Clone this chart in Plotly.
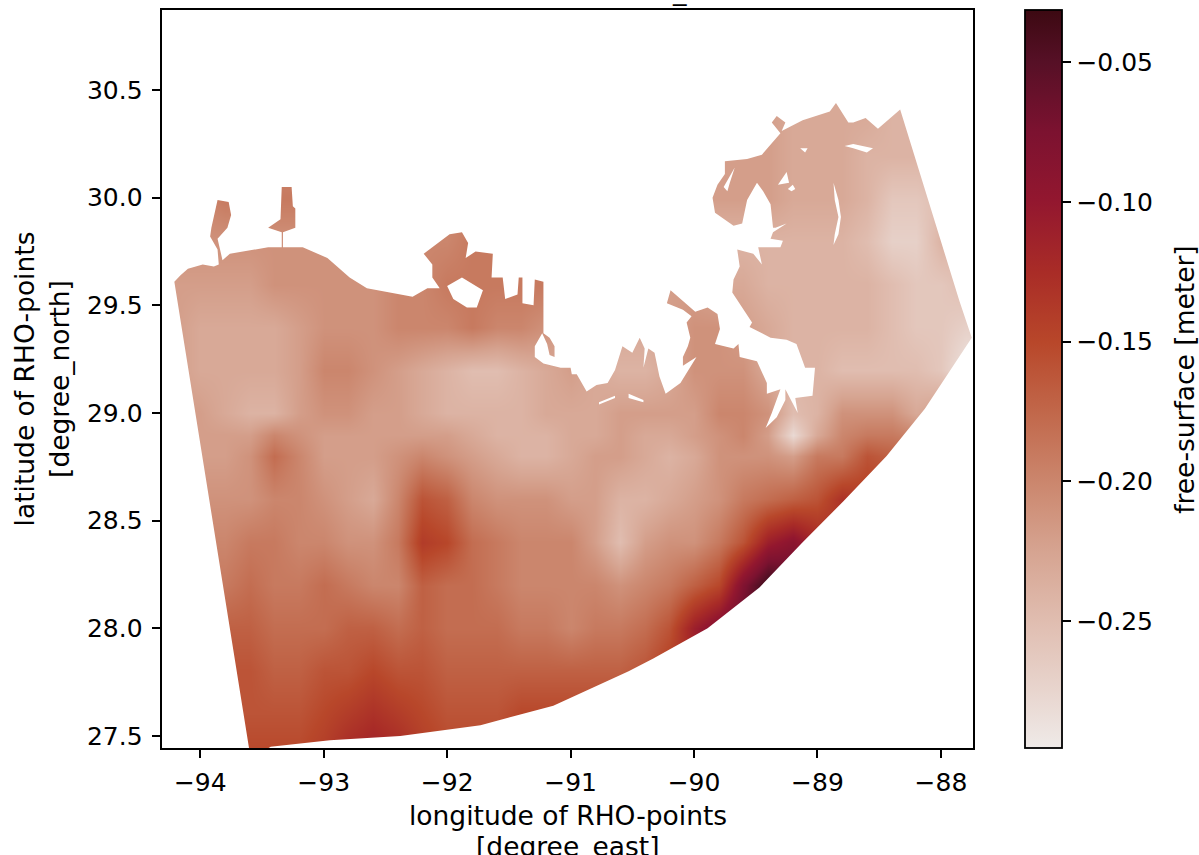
import plotly.graph_objects as go

lons = [-94.4, -94.2, -94.0, -93.8, -93.6, -93.4, -93.2, -93.0, -92.8, -92.6, -92.4, -92.2,
        -92.0, -91.8, -91.6, -91.4, -91.2, -91.0, -90.8, -90.6, -90.4, -90.2, -90.0, -89.8,
        -89.6, -89.4, -89.2, -89.0, -88.8, -88.6, -88.4, -88.2, -88.0, -87.8, -87.6]
lats = [30.6, 30.4, 30.2, 30.0, 29.8, 29.6, 29.4, 29.2, 29.0, 28.9, 28.8, 28.6, 28.4, 28.2, 28.0, 27.8, 27.6, 27.4]

# free-surface depth below zero, in centimetres (north to south)
depth_cm = [
 [20,20,20,20,20,20,20,20,20,20,20,20,20,20,20,20,20,20,20,20,20,20,22,22,22,22,23,23,23,23,24,24,24,24,24],
 [20,20,20,20,20,20,20,20,20,20,20,20,20,20,20,20,20,20,20,20,20,20,22,22,22,22,23,23,23,23,24,24,24,24,24],
 [20,20,20,20,20,20,20,20,20,20,20,20,20,20,20,20,20,20,20,20,20,22,22,22,22,22,23,23,23,24,24,24,24,24,24],
 [20,20,20,19,19,19,19,19,20,20,20,20,20,20,20,20,20,20,20,21,21,22,22,22,22,22,23,23,23,24,26,26,25,25,25],
 [21,21,21,21,21,21,21,21,21,21,20,20,20,19,19,19,19,20,20,21,22,22,23,24,24,24,24,24,24,25,27,27,24,24,24],
 [22,22,22,22,22,21,21,21,21,21,20,20,19,19,19,19,19,20,21,22,22,22,22,23,23,24,24,24,24,24,25,26,26,25,25],
 [22,22,23,23,23,23,22,21,21,21,20,20,20,19,20,20,21,23,23,23,23,22,21,21,22,23,24,24,24,24,25,26,26,27,27],
 [22,22,23,23,23,23,22,20,20,21,22,23,24,25,25,24,23,22,23,24,24,23,21,21,21,23,24,24,25,25,25,25,26,29,29],
 [22,22,22,23,24,24,22,21,21,22,22,23,24,24,24,24,23,23,23,22,22,22,22,20,20,21,25,24,21,21,21,23,22,22,22],
 [22,22,22,22,22,20,21,22,22,22,22,22,22,23,24,24,24,23,23,22,23,23,22,21,20,22,28,23,20,19,19,20,20,20,20],
 [22,22,22,22,21,18,20,22,22,22,21,20,21,22,23,24,24,23,22,22,23,24,23,21,21,21,22,19,19,16,17,17,17,17,17],
 [21,21,21,21,21,20,20,21,22,23,20,16,17,20,21,21,21,22,22,24,24,23,22,21,19,18,17,16,13,14,14,14,14,14,14],
 [20,20,20,20,19,19,20,20,21,21,19,14,15,18,19,20,20,20,22,25,22,21,21,19,16,11,9,12,14,14,14,14,14,14,14],
 [19,19,19,19,18,19,19,18,19,20,20,17,18,18,19,20,20,20,20,21,20,19,17,15,8,3,5,7,10,10,10,10,10,10,10],
 [17,17,17,17,17,18,18,18,17,17,18,17,18,18,18,19,19,20,19,19,18,16,11,8,5,4,5,7,10,10,10,10,10,10,10],
 [16,16,16,16,16,17,17,16,16,15,16,16,17,17,17,17,17,17,17,17,16,14,12,8,7,7,7,7,10,10,10,10,10,10,10],
 [16,16,16,16,16,16,16,15,14,13,14,15,16,16,16,15,15,15,15,15,14,13,12,8,7,7,7,7,10,10,10,10,10,10,10],
 [15,15,15,15,15,15,15,14,12,11,12,14,15,15,15,15,15,15,15,15,14,13,12,8,7,7,7,7,10,10,10,10,10,10,10],
]

# outer edge of the model domain (clockwise from the south-west corner)
edge_lon = [-93.59,-94.21,-94.16,-94.10,-93.98,-93.89,-93.85,-93.86,-93.92,-93.91,-93.86,-93.77,-93.75,-93.78,-93.86,-93.82,
 -93.76,-93.45,-93.34,-93.34,-93.45,-93.35,-93.34,-93.26,-93.25,-93.23,-93.23,-93.33,-93.33,-93.17,-92.97,-92.79,-92.65,-92.38,
 -92.28,-92.16,-92.06,-92.12,-92.12,-92.19,-92.14,-91.98,-91.88,-91.83,-91.85,-91.77,-91.63,-91.64,-91.55,-91.53,-91.43,-91.42,
 -91.39,-91.39,-91.30,-91.29,-91.22,-91.22,-91.17,-91.13,-91.13,-91.17,-91.19,-91.23,-91.29,-91.29,-91.22,-91.08,-91.00,-90.99,
 -90.95,-90.87,-90.79,-90.70,-90.64,-90.58,-90.50,-90.44,-90.40,-90.41,-90.37,-90.32,-90.28,-90.23,-90.11,-89.98,-90.09,-90.09,
 -90.05,-90.03,-90.06,-90.02,-90.09,-90.22,-90.19,-90.09,-89.99,-89.89,-89.81,-89.79,-89.83,-89.68,-89.64,-89.63,-89.49,-89.41,
 -89.41,-89.30,-89.37,-89.42,-89.33,-89.26,-89.26,-89.16,-89.18,-89.04,-89.02,-89.10,-89.17,-89.25,-89.38,-89.55,-89.53,-89.61,
 -89.69,-89.68,-89.63,-89.65,-89.52,-89.45,-89.48,-89.30,-89.28,-89.38,-89.36,-89.25,-89.34,-89.36,-89.38,-89.44,-89.49,-89.57,-89.61,-89.68,-89.83,-89.85,
 -89.81,-89.75,-89.75,-89.57,-89.45,-89.30,-89.37,-89.33,-89.26,-89.29,-89.12,-88.90,-88.85,-88.75,-88.71,-88.61,-88.51,-88.33,
 -88.23,-87.85,-87.75,-88.13,-88.44,-88.79,-89.12,-89.47,-89.89,-90.33,-90.53,-91.14,-91.73,-92.38,-92.95,-93.43,-93.59]
edge_lat = [27.39,29.61,29.64,29.67,29.69,29.68,29.69,29.76,29.82,29.86,29.99,29.98,29.92,29.86,29.81,29.71,
 29.74,29.77,29.77,29.84,29.86,29.90,30.05,30.05,29.96,29.95,29.86,29.84,29.77,29.77,29.72,29.63,29.58,29.55,
 29.54,29.58,29.58,29.63,29.69,29.74,29.76,29.83,29.84,29.79,29.72,29.75,29.74,29.63,29.63,29.53,29.55,29.63,
 29.63,29.51,29.50,29.62,29.61,29.37,29.35,29.31,29.26,29.27,29.32,29.37,29.31,29.26,29.23,29.21,29.21,29.18,
 29.18,29.10,29.13,29.14,29.20,29.31,29.28,29.35,29.30,29.21,29.30,29.28,29.17,29.09,29.14,29.26,29.22,29.26,
 29.31,29.35,29.42,29.45,29.48,29.51,29.57,29.52,29.47,29.49,29.46,29.39,29.32,29.30,29.32,29.26,29.24,29.14,
 29.09,29.11,29.00,28.93,28.98,29.06,29.11,29.00,29.07,29.08,29.21,29.21,29.32,29.34,29.35,29.40,29.42,29.49,
 29.56,29.62,29.68,29.76,29.74,29.69,29.77,29.77,29.80,29.81,29.84,29.88,29.86,29.86,29.97,30.03,30.07,29.99,29.88,29.87,29.93,30.00,
 30.06,30.11,30.17,30.18,30.20,30.30,30.35,30.38,30.35,30.31,30.36,30.40,30.44,30.35,30.35,30.37,30.32,30.41,
 30.23,29.52,29.35,29.02,28.80,28.59,28.40,28.19,28.00,27.86,27.80,27.64,27.55,27.50,27.48,27.45,27.39]

# dry patches inside the domain
lake_lon = [-92.00,-91.88,-91.71,-91.76,-91.84,-91.95,-92.00,None,
            -90.77,-90.64,-90.64,-90.77,-90.77,None,
            -90.53,-90.41,-90.41,-90.53,-90.53,None,
            -89.14,-89.08,-89.10,-89.14,None,
            -88.78,-88.71,-88.55,-88.60,-88.71,-88.78,None,
            -88.87,-88.83,-88.81,-88.83,-88.87,-88.86,-88.83,-88.86,-88.87,None,
            -89.32,-89.25,-89.23,-89.32,None,
            -89.24,-89.20,-89.18,-89.21,-89.24,None,
            -89.76,-89.67,-89.71,-89.73,-89.76]
lake_lat = [29.59,29.63,29.57,29.49,29.49,29.53,29.59,None,
            29.05,29.08,29.07,29.04,29.05,None,
            29.09,29.06,29.05,29.07,29.09,None,
            30.23,30.23,30.21,30.23,None,
            30.24,30.25,30.23,30.21,30.23,30.24,None,
            30.07,29.99,29.91,29.83,29.78,29.83,29.91,29.99,30.07,None,
            30.06,30.12,30.07,30.06,None,
            30.04,30.06,30.04,30.03,30.04,None,
            30.05,30.14,30.07,30.03,30.05]

# corners of an area larger than the axes, used to blank everything off the domain
outer_lon = [-95.0, -95.0, -87.0, -87.0, -93.59]
outer_lat = [27.2, 31.2, 31.2, 27.2, 27.2]

lon_ticks = [-94, -93, -92, -91, -90, -89, -88]
lat_ticks = [27.5, 28.0, 28.5, 29.0, 29.5, 30.0, 30.5]
cbar_ticks = [-0.05, -0.10, -0.15, -0.20, -0.25]
amp_scale = [[0.0, "#efeae8"], [0.077, "#e8d5ce"], [0.172, "#e0bdb0"], [0.266, "#d6a491"], [0.361, "#cb866d"],
             [0.456, "#c1674a"], [0.55, "#b8472a"], [0.645, "#a92c27"], [0.74, "#93172f"], [0.835, "#7c1230"],
             [0.93, "#561026"], [1.0, "#3c0912"]]

FONT = "DejaVu Sans"
TICK = 25
TITLE = 26.5
z = [[-v / 100 for v in row] for row in depth_cm]

fig = go.Figure()
fig.add_trace(go.Heatmap(
    x=lons, y=lats, z=z, zsmooth="best", zmin=-0.2953, zmax=-0.0314, colorscale=amp_scale,
    colorbar=dict(
        xref="container", x=1025 / 1199, xanchor="left", xpad=0, ypad=0,
        yref="paper", y=0, yanchor="bottom", len=1, lenmode="fraction",
        thickness=37, thicknessmode="pixels", outlinecolor="black", outlinewidth=1.8,
        ticks="outside", ticklen=9, tickwidth=1.8, tickcolor="black", tickvals=cbar_ticks,
        tickformat=".2f", tickfont=dict(family=FONT, size=TICK, color="black"),
    ),
))
fig.add_trace(go.Scatter(
    x=outer_lon + edge_lon[::-1] + outer_lon[:1], y=outer_lat + edge_lat[::-1] + outer_lat[:1],
    mode="lines", line=dict(width=0, color="white"), fill="toself", fillcolor="white",
    hoverinfo="skip", showlegend=False))
fig.add_trace(go.Scatter(
    x=lake_lon, y=lake_lat, mode="lines", line=dict(width=0, color="white"), fill="toself", fillcolor="white",
    hoverinfo="skip", showlegend=False))

title_font = dict(family=FONT, size=TITLE, color="black")
axis = dict(showline=True, linecolor="black", linewidth=1.8, mirror=True, ticks="outside", ticklen=8.5, tickwidth=1.8,
            tickcolor="black", showgrid=False, zeroline=False, tickfont=dict(family=FONT, size=TICK, color="black"))
fig.update_layout(
    width=1199, height=855, margin=dict(l=162, r=226, t=10, b=107, autoexpand=False),
    plot_bgcolor="white", paper_bgcolor="white", showlegend=False,
    xaxis=dict(axis, range=[-94.31, -87.74], tickvals=lon_ticks, tickformat="d", ticklabelstandoff=3),
    yaxis=dict(axis, range=[27.444, 30.872], tickvals=lat_ticks, tickformat=".1f", ticklabelstandoff=4,
               title=dict(text="latitude of RHO-points<br>[degree_north]", standoff=10, font=title_font)),
    annotations=[
        dict(text="_", xref="paper", yref="paper", x=0.638, y=1.0, yshift=2, xanchor="center", yanchor="bottom",
             showarrow=False, font=dict(family=FONT, size=27, color="black")),
        dict(text="free-surface [meter]", textangle=-90, xref="paper", yref="paper", x=1.26, y=0.5,
             xanchor="center", yanchor="middle", showarrow=False, font=title_font),
        dict(text="longitude of RHO-points", xref="paper", yref="paper", x=0.5, y=0, yshift=-67,
             xanchor="center", yanchor="middle", showarrow=False, font=title_font),
        dict(text="[degree_east]", xref="paper", yref="paper", x=0.5, y=0, yshift=-98,
             xanchor="center", yanchor="middle", showarrow=False, font=title_font),
    ],
)
fig.write_html("out.html", config={"displayModeBar": False}, post_script="document.body.style.margin='0';")
